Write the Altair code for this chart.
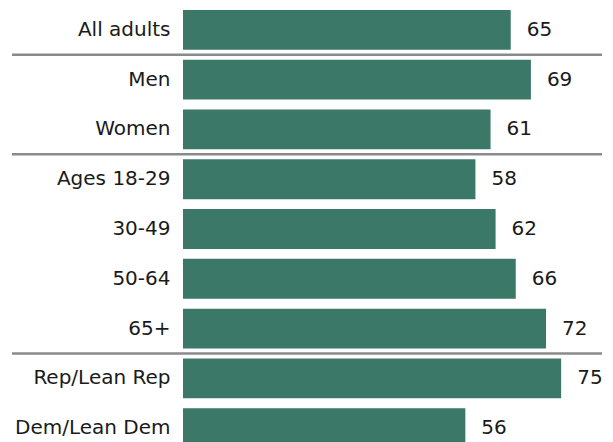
import altair as alt
import pandas as pd

categories = ["All adults", "Men", "Women", "Ages 18-29", "30-49", "50-64", "65+",
              "Rep/Lean Rep", "Dem/Lean Dem"]
values = [65, 69, 61, 58, 62, 66, 72, 75, 56]
separators_before = ["Men", "Ages 18-29", "Rep/Lean Rep"]

df = pd.DataFrame({"cat": categories, "val": values})
sep = pd.DataFrame({"cat": separators_before})

FONT = "DejaVu Sans"
y_enc = alt.Y("cat:N", sort=categories,
              scale=alt.Scale(paddingInner=0.2, paddingOuter=0.04),
              axis=alt.Axis(title=None, ticks=False, domain=False, labelPadding=13,
                            labelFont=FONT, labelFontSize=20, labelColor="#1a1a1a",
                            labelLimit=300))
x_enc = alt.X("val:Q", scale=alt.Scale(domain=[0, 83.3]), axis=None)

bars = alt.Chart(df).mark_bar(color="#3b7868").encode(x=x_enc, y=y_enc)
labels = alt.Chart(df).mark_text(align="left", baseline="middle", dx=16,
                                 font=FONT, fontSize=20, color="#1a1a1a").encode(
    x=x_enc, y=alt.Y("cat:N", sort=categories), text="val:Q")
rules = alt.Chart(sep).mark_rule(color="#8a8a8a", strokeWidth=2.5, yOffset=-5).encode(
    y=alt.Y("cat:N", sort=categories, bandPosition=0),
    x=alt.value(-171), x2=alt.value(419))

chart = alt.layer(bars, labels, rules).properties(
    width=420, height=442,
    autosize=alt.AutoSizeParams(type="none"),
    padding={"left": 175, "top": 0, "right": 0, "bottom": 0},
).configure_view(stroke=None)

chart.save("out.html", embed_options={"renderer": "svg", "actions": False})
